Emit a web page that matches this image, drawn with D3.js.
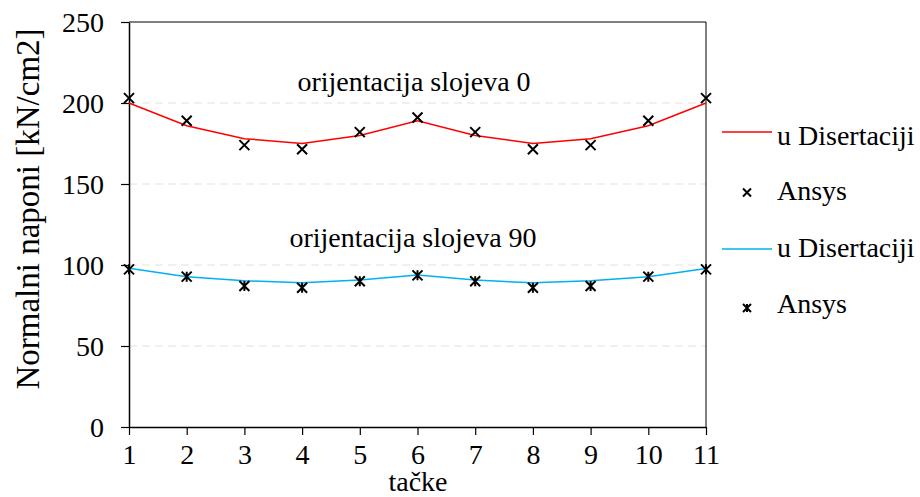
<!DOCTYPE html>
<html><head><meta charset="utf-8">
<script src="https://cdn.jsdelivr.net/npm/d3@7"></script>
<style>body{margin:0;background:#fff}svg{display:block}svg text{font-family:"Liberation Serif",serif !important;fill:#000}</style>
</head><body>
<script>
const points = [1,2,3,4,5,6,7,8,9,10,11];
const disert0 = [200,186,178,175,180,189,180,175,178,186,200];
const ansys0  = [203,189,174,171.5,182,191,182,171.5,174,189,203];
const disert90 = [98,92.8,90.3,89,90.7,93.8,90.7,89,90.3,92.8,97.8];
const ansys90  = [97.3,92.8,87,86,90,93.6,90,86,87,92.8,97.3];
const yTicks = [0,50,100,150,200,250];
const gridTicks = [50,100,150,200];

const W=920,H=497;
const FS=28;
const svg=d3.select("body").append("svg").attr("width",W).attr("height",H);
const x=d3.scaleLinear().domain([1,11]).range([129,706]);
const y=d3.scaleLinear().domain([0,250]).range([427,22]);

// gridlines
svg.append("g").selectAll("line").data(gridTicks).join("line")
 .attr("x1",129).attr("x2",706).attr("y1",d=>y(d)).attr("y2",d=>y(d))
 .attr("stroke","#e4e1d8").attr("stroke-width",1).attr("stroke-dasharray","8,5");

// frame top & right
svg.append("line").attr("x1",129).attr("x2",706).attr("y1",22).attr("y2",22).attr("stroke","#000");
svg.append("line").attr("x1",706).attr("x2",706).attr("y1",22).attr("y2",427).attr("stroke","#000");

// axes
const yAxis=d3.axisLeft(y).tickValues(yTicks).tickSize(8).tickPadding(17).tickSizeOuter(0);
const gy=svg.append("g").attr("transform","translate(129,0)").call(yAxis);
const xAxis=d3.axisBottom(x).tickValues(points).tickSize(8).tickPadding(9).tickSizeOuter(0).tickFormat(d3.format("d"));
const gx=svg.append("g").attr("transform","translate(0,427)").call(xAxis);
[gy,gx].forEach(g=>{
  g.selectAll("path.domain").attr("stroke","#000").attr("stroke-width",1.5);
  g.selectAll(".tick line").attr("stroke","#000").attr("stroke-width",1.2);
  g.selectAll("text").style("font-size",FS+"px");
});
gy.selectAll("text").attr("dy","0.33em");
gx.selectAll("text").attr("dy","0.71em");

// axis titles
svg.append("text").attr("x",418).attr("y",491).attr("text-anchor","middle")
 .style("font-size",FS+"px").text("tačke");
svg.append("text").attr("transform","translate(39,209) rotate(-90)").attr("text-anchor","middle")
 .style("font-size","33px").text("Normalni naponi [kN/cm2]");

// lines
const line=d3.line().x((d,i)=>x(points[i])).y(d=>y(d));
svg.append("path").datum(disert0).attr("d",line).attr("fill","none").attr("stroke","#ff0000").attr("stroke-width",1.5);
svg.append("path").datum(disert90).attr("d",line).attr("fill","none").attr("stroke","#00b0f0").attr("stroke-width",1.5);

function xMark(g,cx,cy,s){
  g.append("path").attr("d",`M${cx-s},${cy-s}L${cx+s},${cy+s}M${cx-s},${cy+s}L${cx+s},${cy-s}`)
   .attr("stroke","#000").attr("stroke-width",2).attr("fill","none");
}
function starMark(g,cx,cy,s){
  g.append("path").attr("d",`M${cx-s},${cy-s}L${cx+s},${cy+s}M${cx-s},${cy+s}L${cx+s},${cy-s}M${cx},${cy-s}L${cx},${cy+s}`)
   .attr("stroke","#000").attr("stroke-width",2).attr("fill","none");
}
const m=svg.append("g");
ansys0.forEach((v,i)=>xMark(m,x(points[i]),y(v),5));
ansys90.forEach((v,i)=>starMark(m,x(points[i]),y(v),5));

// annotations
svg.append("text").attr("x",414).attr("y",91).attr("text-anchor","middle")
 .style("font-size",FS+"px").text("orijentacija slojeva 0");
svg.append("text").attr("x",413).attr("y",247).attr("text-anchor","middle")
 .style("font-size",FS+"px").text("orijentacija slojeva 90");

// legend
const lg=svg.append("g");
lg.append("line").attr("x1",722).attr("x2",772).attr("y1",132).attr("y2",132).attr("stroke","#ff0000").attr("stroke-width",1.5);
lg.append("line").attr("x1",722).attr("x2",772).attr("y1",249).attr("y2",249).attr("stroke","#00b0f0").attr("stroke-width",1.5);
xMark(lg,747,192.5,4);
starMark(lg,747,308,4);
[["u Disertaciji",145],["Ansys",200],["u Disertaciji",257],["Ansys",313]].forEach(([t,yy])=>{
  lg.append("text").attr("x",777).attr("y",yy).style("font-size",FS+"px").text(t);
});
</script>
</body></html>
